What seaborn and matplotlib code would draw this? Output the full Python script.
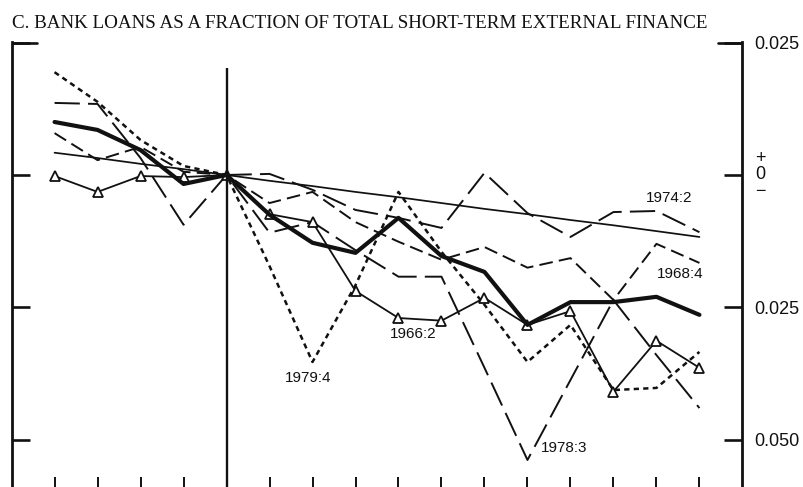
import numpy as np
import pandas as pd
import matplotlib
matplotlib.use("Agg")
import matplotlib.pyplot as plt
import seaborn as sns

# ---------------- data ----------------
quarters = list(range(-4, 12))
average = [0.0100, 0.0085, 0.0047, -0.0017, 0.0, -0.0075, -0.0128, -0.0147,
           -0.0081, -0.0153, -0.0183, -0.0283, -0.0240, -0.0240, -0.0230, -0.0264]
trend = [0.0042, 0.0032, 0.0021, 0.0011, 0.0, -0.0011, -0.0021, -0.0032,
         -0.0042, -0.0053, -0.0064, -0.0074, -0.0085, -0.0095, -0.0106, -0.0117]
s1966_2 = [-0.0002, -0.0032, -0.0002, -0.0004, 0.0, -0.0074, -0.0089, -0.0219,
           -0.0270, -0.0275, -0.0232, -0.0283, -0.0257, -0.0409, -0.0313, -0.0364]
s1968_4 = [0.0079, 0.0028, 0.0053, 0.0006, 0.0, -0.0053, -0.0032, -0.0089,
           -0.0126, -0.0160, -0.0136, -0.0175, -0.0157, -0.0236, -0.0130, -0.0166]
s1974_2 = [np.nan, np.nan, np.nan, np.nan, 0.0, 0.0002, -0.0028, -0.0066,
           -0.0081, -0.0100, 0.0004, -0.0072, -0.0117, -0.0070, -0.0068, -0.0108]
s1978_3 = [0.0136, 0.0134, 0.0032, -0.0094, 0.0, -0.0109, -0.0089, -0.0142,
           -0.0192, -0.0192, -0.0364, -0.0538, -0.0387, -0.0236, -0.0340, -0.0440]
s1979_4 = [0.0194, 0.0138, 0.0066, 0.0017, 0.0, -0.0172, -0.0353, -0.0208,
           -0.0032, -0.0145, -0.0245, -0.0353, -0.0283, -0.0406, -0.0402, -0.0334]

yticks = [0.025, 0.0, -0.025, -0.050]
ytick_labels = ["0.025", "", "0.025", "0.050"]
zero_label = "+\n0\n\u2212"
title = "C. BANK LOANS AS A FRACTION OF TOTAL SHORT-TERM EXTERNAL FINANCE"
labels = ["1974:2", "1968:4", "1966:2", "1979:4", "1978:3"]
label_t = [10.3, 10.55, 4.35, 1.9, 7.85]
label_v = [-0.0043, -0.0187, -0.0300, -0.0383, -0.0515]

# ---------------- style ----------------
sns.set_theme(style="white")
plt.rcParams['font.family'] = ['Liberation Sans', 'DejaVu Sans']
INK = "#111111"

fig = plt.figure(figsize=(8.04, 4.87), dpi=100)
ax = fig.add_axes([12 / 804, 0, 730 / 804, 445 / 487])
ax.set_facecolor("white")
fig.patch.set_facecolor("white")

def draw(vals, lw, ls="-", **kw):
    df = pd.DataFrame({"t": quarters, "v": vals}).dropna()
    sns.lineplot(data=df, x="t", y="v", ax=ax, color=INK, lw=lw,
                 linestyle=ls, legend=False, **kw)

draw(trend, 1.25)
draw(s1974_2, 1.4, (0, (13.0, 4.2)))
draw(s1978_3, 1.4, (0, (13.0, 4.2)))
draw(s1968_4, 1.4, (0, (7.0, 3.2)))
draw(s1979_4, 1.8, (0, (2.1, 1.7)))
draw(s1966_2, 1.3, "-", marker="^", markersize=6.5, markerfacecolor="white",
     markeredgecolor=INK, markeredgewidth=1.3)
draw(average, 3.0)

# vertical reference line at t = 0
ax.vlines(0, -0.07, 0.0202, color=INK, lw=1.7)

ax.set_xlim(-4.99, 11.99)
ax.set_ylim(-0.0589, 0.0251)
ax.set_xticks([t for t in quarters if t != 0])
ax.set_yticks(yticks)
ax.set_yticklabels(ytick_labels)
ax.set_xlabel("")
ax.set_ylabel("")
ax.tick_params(axis='x', direction='in', length=7, width=1.4, color=INK,
               bottom=True, top=False, labelbottom=False)
ax.tick_params(axis='y', direction='in', length=13, width=1.9, color=INK,
               left=True, right=True, labelleft=False, labelright=True,
               pad=9, labelsize=13, labelcolor=INK)
for side in ["top", "bottom"]:
    ax.spines[side].set_visible(False)
for side in ["left", "right"]:
    ax.spines[side].set_visible(True)
    ax.spines[side].set_color(INK)
    ax.spines[side].set_linewidth(2.0)

# longer top ticks
ax.axhline(0.025, xmin=0, xmax=25 / 730, color=INK, lw=1.9)
ax.axhline(0.025, xmin=1 - 24 / 730, xmax=1, color=INK, lw=1.9)

# stacked zero label (single text block)
ax.annotate(zero_label, xy=(1, 0), xycoords=('axes fraction', 'data'),
            xytext=(13, 0), textcoords='offset points',
            ha='center', va='center', multialignment='center',
            linespacing=0.95, fontsize=13, color=INK, annotation_clip=False)

for lab, lt, lv in zip(labels, label_t, label_v):
    ax.text(lt, lv, lab, ha='center', va='center', fontsize=11, color=INK)

fig.text(12 / 804, 1 - 28 / 487, title, family=['Liberation Serif', 'DejaVu Serif'],
         fontsize=13.7, ha='left', va='baseline', color=INK)

fig.savefig("out.png", dpi=100, facecolor="white")
